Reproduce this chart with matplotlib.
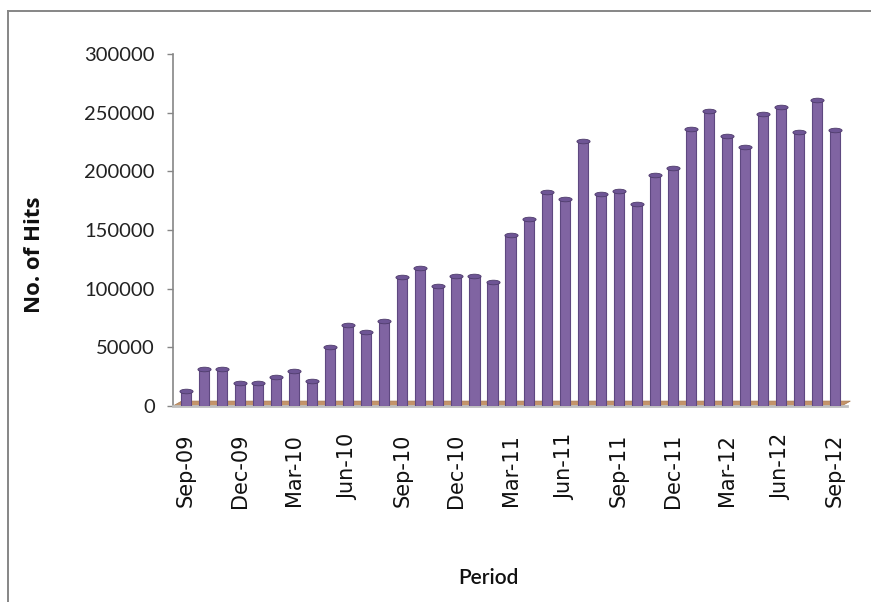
import matplotlib
matplotlib.use("Agg")
import matplotlib.pyplot as plt
from matplotlib.lines import Line2D
from matplotlib.patches import Polygon
import numpy as np

months = ["Sep-09", "Oct-09", "Nov-09", "Dec-09", "Jan-10", "Feb-10", "Mar-10", "Apr-10",
          "May-10", "Jun-10", "Jul-10", "Aug-10", "Sep-10", "Oct-10", "Nov-10", "Dec-10",
          "Jan-11", "Feb-11", "Mar-11", "Apr-11", "May-11", "Jun-11", "Jul-11", "Aug-11",
          "Sep-11", "Oct-11", "Nov-11", "Dec-11", "Jan-12", "Feb-12", "Mar-12", "Apr-12",
          "May-12", "Jun-12", "Jul-12", "Aug-12", "Sep-12"]
hits = [13000, 31500, 31500, 19500, 20000, 25000, 30000, 21500,
        50000, 69000, 63000, 72500, 110000, 118000, 102000, 110500,
        110500, 106000, 146000, 159500, 182000, 176000, 225500, 180500,
        183000, 172500, 196500, 203000, 236500, 251500, 230000, 220500,
        249000, 255000, 233500, 260500, 235000]
tick_labels = ["Sep-09", "Dec-09", "Mar-10", "Jun-10", "Sep-10", "Dec-10", "Mar-11",
               "Jun-11", "Sep-11", "Dec-11", "Mar-12", "Jun-12", "Sep-12"]
y_ticks = [0, 50000, 100000, 150000, 200000, 250000, 300000]

fig = plt.figure(figsize=(8.71, 6.02), dpi=100)
fig.patch.set_facecolor("white")
ax = fig.add_axes([173 / 871, 1 - 406 / 602, (847 - 173) / 871, (406 - 54) / 602])

x = np.arange(len(months))
ax.bar(x, hits, width=0.56, color="#8064a2", edgecolor="#5e4880", linewidth=0.8, zorder=3)
# cylinder caps
cap = matplotlib.path.Path.unit_circle().transformed(
    matplotlib.transforms.Affine2D().scale(1.0, 0.35))
ax.scatter(x, hits, marker=cap, s=90, color="#6e5595",
           edgecolor="#4f3c6c", linewidth=0.6, zorder=4)

ax.set_xlim(-0.72, 36.66)
ax.set_ylim(0, 300000)
ax.set_yticks(y_ticks)
ax.set_yticklabels([str(v) for v in y_ticks], family=["Lato", "DejaVu Sans"], fontsize=14.5,
                   color="#222222")
ax.set_xticks([months.index(t) for t in tick_labels])
ax.set_xticklabels(tick_labels, rotation=90, family="DejaVu Sans", fontsize=15,
                   color="#111111")
ax.tick_params(axis="x", length=0, pad=20)
ax.tick_params(axis="y", length=4, width=1.0, color="#868686", pad=9)

for s in ["top", "right"]:
    ax.spines[s].set_visible(False)
ax.spines["left"].set_color("#868686")
ax.spines["left"].set_linewidth(1.2)
ax.spines["bottom"].set_color("#bfbfbf")
ax.spines["bottom"].set_linewidth(2.0)

# 3D floor
floor = Polygon([[0.0, 0.0], [0.992, 0.0], [1.005, 0.014], [0.013, 0.014]],
                closed=True, transform=ax.transAxes, facecolor="#c4946a",
                edgecolor="#a77a52", linewidth=0.5, zorder=2, clip_on=False)
ax.add_patch(floor)

fig.text(35 / 871, 1 - 255 / 602, "No. of Hits", rotation=90, ha="center", va="center",
         fontsize=16, fontweight="bold", family=["Open Sans", "DejaVu Sans"], color="#111111")
fig.text(488 / 871, 1 - 578 / 602, "Period", ha="center", va="center",
         fontsize=15, fontweight="semibold", family=["Lato", "DejaVu Sans"], color="#111111")

# chart-area border
fig.add_artist(Line2D([8 / 871, 8 / 871], [0, 1 - 11 / 602], transform=fig.transFigure,
                      color="#868686", linewidth=1.4))
fig.add_artist(Line2D([8 / 871, 1], [1 - 11 / 602, 1 - 11 / 602], transform=fig.transFigure,
                      color="#868686", linewidth=1.4))

fig.savefig("out.png", dpi=100)
